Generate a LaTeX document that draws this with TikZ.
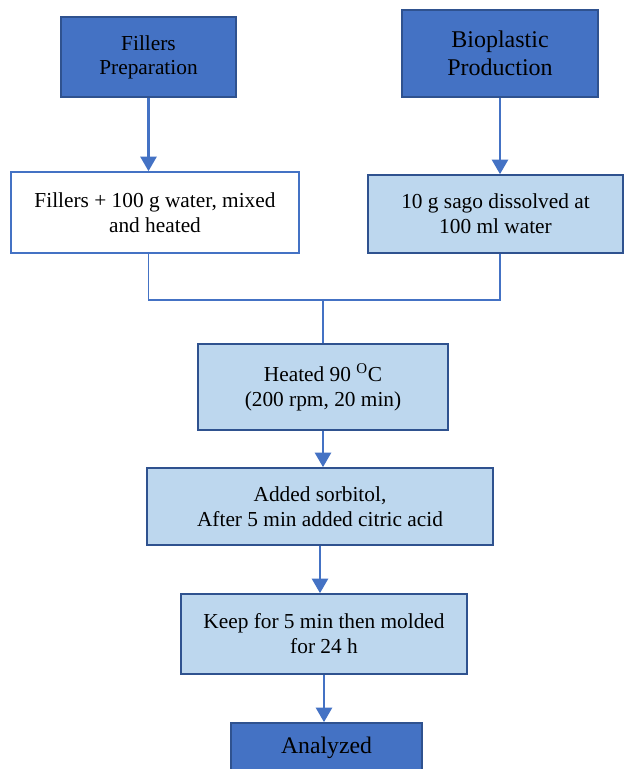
\documentclass[tikz,border=0pt]{standalone}
\usepackage{fontspec}
\setmainfont{Liberation Serif}
\usetikzlibrary{arrows.meta}
\definecolor{officeblue}{HTML}{4472C4}
\definecolor{edgeblue}{HTML}{2F528F}
\definecolor{paleblue}{HTML}{BDD7EE}
\tikzset{
	stage/.style={draw=edgeblue, line width=1.2pt, fill=officeblue, align=center},
	process/.style={draw=edgeblue, line width=1.2pt, fill=paleblue, align=center, font=\fontsize{16}{18.75}\selectfont},
	flow/.style={officeblue, line width=2.2pt, -{Triangle[width=12pt,length=11pt]}},
	branch/.style={officeblue, line width=1.1pt},
}

\begin{document}
\begin{tikzpicture}[x=0.75pt, y=-0.75pt]
	\clip (0,0) rectangle (624,769);
	\node[stage, font=\fontsize{16}{17.8}\selectfont, minimum width=131.25pt, minimum height=60pt] (fillers) at (148.5,57) {Fillers\\Preparation};
	\node[stage, font=\fontsize{18}{21}\selectfont, minimum width=147pt, minimum height=65.25pt] (bio) at (500,53.5) {Bioplastic\\Production};
	\node[process, fill=white, draw=officeblue, minimum width=216pt, minimum height=60.75pt] (mix) at (155,212.5) {Fillers + 100 g water, mixed\\and heated};
	\node[process, minimum width=191.25pt, minimum height=58.5pt] (sago) at (495.5,214) {10 g sago dissolved at\\100 ml water};
	\node[process, minimum width=187.5pt, minimum height=64.5pt] (heat) at (323,387) {Heated 90 \textsuperscript{O}C\\(200 rpm, 20 min)};
	\node[process, minimum width=259.5pt, minimum height=57.75pt] (add) at (320,506.5) {Added sorbitol,\\After 5 min added citric acid};
	\node[process, minimum width=214.5pt, minimum height=60pt] (keep) at (324,634) {Keep for 5 min then molded\\for 24 h};
	\node[stage, font=\fontsize{17.8}{21}\selectfont, minimum width=143.25pt, minimum height=37.5pt] (ana) at (326.5,748) {Analyzed};
	\coordinate (merge) at (323,300);
	\draw[flow] (fillers.south) -- (fillers.south |- mix.north);
	\draw[flow] (bio.south) -- (bio.south |- sago.north);
	\draw[branch] (mix.south -| fillers.south) |- (merge) -| (sago.south -| bio.south);
	\draw[branch] (merge) -- (merge |- heat.north);
	\draw[flow] (heat.south) -- (heat.south |- add.north);
	\draw[flow] (add.south) -- (add.south |- keep.north);
	\draw[flow] (keep.south) -- (keep.south |- ana.north);
\end{tikzpicture}
\end{document}
